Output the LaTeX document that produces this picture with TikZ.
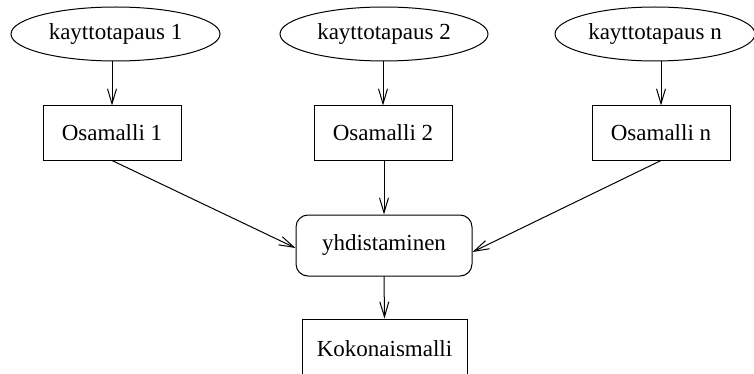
\documentclass[tikz,border=0pt]{standalone}
\usepackage{fontspec}
\setmainfont{Liberation Serif}
\usetikzlibrary{shapes.geometric,arrows.meta,calc}
\begin{document}
\begin{tikzpicture}[x=0.5pt,y=-0.5pt,
  every node/.style={font=\fontsize{11.5}{13}\selectfont, line width=0.5pt, inner sep=0pt},
  usecase/.style={draw, ellipse, minimum height=27pt},
  model/.style={draw, rectangle, minimum width=69pt, minimum height=27pt},
  merge/.style={draw, rectangle, rounded corners=6pt, minimum width=88pt, minimum height=30.5pt},
  arr/.style={line width=0.5pt, -{Straight Barb[length=7.5pt,width=4.5pt]}}]
\useasboundingbox (0,0) rectangle (754,374);
\node[usecase, minimum width=104.5pt] (e1) at (115.5,34) {kayttotapaus 1};
\node[usecase, minimum width=104pt] (e2) at (384,34) {kayttotapaus 2};
\node[usecase, minimum width=100pt] (en) at (655,34) {kayttotapaus n};
\node[model] (b1) at (112,133) {Osamalli 1};
\node[model] (b2) at (383,133) {Osamalli 2};
\node[model] (bn) at (661,133) {Osamalli n};
\node[merge] (y) at (384,245.5) {yhdistaminen};
\node[draw, rectangle, minimum width=82.5pt, minimum height=30pt, line width=0.5pt] (k) at (384.5,349) {Kokonaismalli};
\draw[arr] (e1.south -| b1.north) -- (b1.north);
\draw[arr] (e2.south -| b2.north) -- (b2.north);
\draw[arr] (en.south -| bn.north) -- (bn.north);
\draw[arr] (b1.south) -- ($(y.west)+(0,2.5)$);
\draw[arr] (b2.south -| y.north) -- (y.north);
\draw[arr] (bn.south) -- ($(y.east)+(0,6.5)$);
\draw[arr] (y.south) -- (k.north);
\end{tikzpicture}
\end{document}
